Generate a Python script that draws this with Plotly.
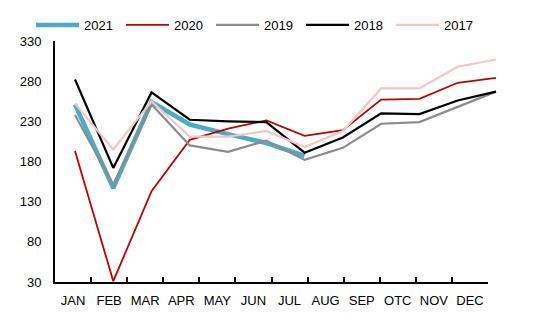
import plotly.graph_objects as go

months = ["JAN", "FEB", "MAR", "APR", "MAY", "JUN", "JUL", "AUG", "SEP", "OTC", "NOV", "DEC"]
y2021 = [251, 147, 254, 226, 214, 203, 187]
y2020 = [193, 31, 143, 207, 221, 231, 212, 219, 257, 258, 278, 284]
y2019 = [238, 151, 251, 200, 192, 206, 182, 197, 227, 229, 248, 267]
y2018 = [282, 172, 266, 232, 230, 229, 191, 210, 240, 239, 256, 267]
y2017 = [252, 195, 255, 211, 211, 218, 198, 218, 271, 271, 298, 307]
yticks = [30, 80, 130, 180, 230, 280, 330]

series = [
    ("2021", y2021, "#4BACC6", 4.5),
    ("2020", y2020, "#C00000", 1.8),
    ("2019", y2019, "#8C8C8C", 2.2),
    ("2018", y2018, "#000000", 2.2),
    ("2017", y2017, "#F4C6C6", 2.2),
]

FONT = "Liberation Sans"
fig = go.Figure()
idx = list(range(len(months)))
for name, vals, col, w in series:
    fig.add_trace(go.Scatter(x=idx[:len(vals)], y=vals, name=name, mode="lines",
                             line=dict(color=col, width=w), xaxis="x", yaxis="y"))
# invisible trace carrying category labels
fig.add_trace(go.Scatter(x=months, y=[None]*12, xaxis="x2", yaxis="y",
                         showlegend=False, hoverinfo="skip", mode="lines"))

L, R = 55, 545
px_per = 38.27
a = -(75 - L) / px_per
b = a + (R - L) / px_per

fig.update_layout(
    width=550, height=324,
    margin=dict(l=L, r=550 - R, t=41, b=42, autoexpand=False),
    plot_bgcolor="rgba(0,0,0,0)", paper_bgcolor="white",
    font=dict(family=FONT, size=13, color="black"),
    xaxis=dict(range=[a, b], domain=[0, 1], visible=False, anchor="y"),
    xaxis2=dict(domain=[0, (488 - L) / (R - L)], anchor="y", type="category",
                range=[-0.5, 11.5], showline=True, linecolor="black", linewidth=2,
                ticks="inside", tickson="boundaries", ticklen=5, tickcolor="black",
                tickwidth=1.5, showgrid=False, zeroline=False, tickangle=0,
                tickfont=dict(family=FONT, size=13),
                ticklabelstandoff=5),
    yaxis=dict(range=[30, 330], tickvals=yticks, showline=True, linecolor="black",
               linewidth=2, ticks="", showgrid=False, zeroline=False,
               tickfont=dict(size=13), ticklabelstandoff=9),
    legend=dict(orientation="h", x=31/550, xref="container", y=1 - 25/324,
                yref="container", yanchor="middle", xanchor="left",
                itemwidth=43, entrywidth=32, entrywidthmode="pixels",
                font=dict(size=13), bgcolor="rgba(0,0,0,0)"),
    showlegend=True,
)
fig.write_html("out.html")
